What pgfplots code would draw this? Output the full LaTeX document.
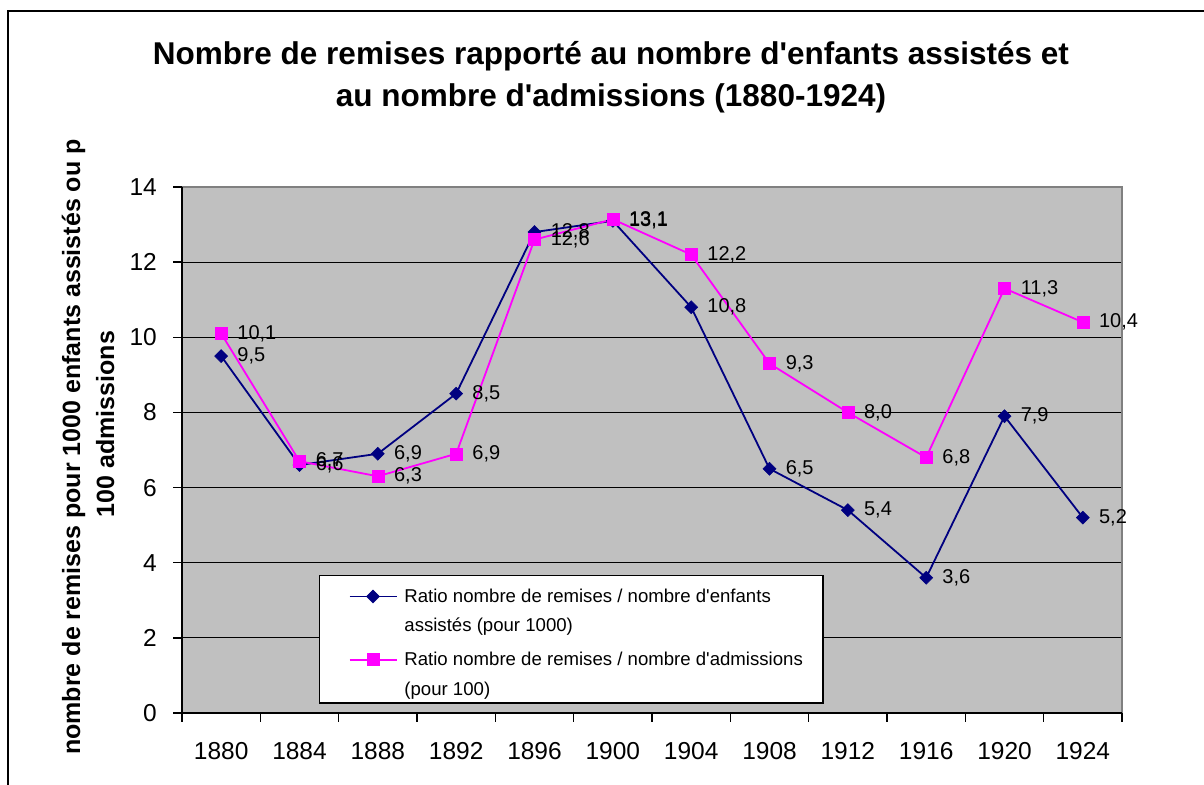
\documentclass[border=0pt]{standalone}
\usepackage{fontspec}
\setmainfont{Liberation Sans}
\usepackage{pgfplots}
\pgfplotsset{compat=1.18}
\definecolor{navyc}{HTML}{000080}
\definecolor{magc}{HTML}{FF00FF}
\definecolor{plotgray}{HTML}{C0C0C0}
\definecolor{bordergray}{HTML}{808080}
\begin{document}
\begin{tikzpicture}[x=1pt,y=1pt]
\useasboundingbox (0,0) rectangle (1204,784);
\fill[white] (0,0) rectangle (1204,784);
\draw[line width=1.5pt] (8,-10) -- (8,773) -- (1220,773);
\node[anchor=base, inner sep=0pt, font=\bfseries\fontsize{31.5}{38}\selectfont] at (611,719) {Nombre de remises rapporté au nombre d\textquotesingle enfants assistés et};
\node[anchor=base, inner sep=0pt, font=\bfseries\fontsize{31.5}{38}\selectfont] at (611,677) {au nombre d\textquotesingle admissions (1880-1924)};
\node[rotate=90, anchor=base west, inner sep=0pt, font=\bfseries\fontsize{25}{30}\selectfont] at (80,29) {nombre de remises pour 1000 enfants assistés ou p};
\node[rotate=90, anchor=base, inner sep=0pt, font=\bfseries\fontsize{25}{30}\selectfont] at (114,360) {100 admissions};
\begin{axis}[
  at={(182pt,71pt)}, anchor=south west,
  width=940pt, height=526pt, scale only axis,
  xmin=-0.5, xmax=11.5, ymin=0, ymax=14,
  clip=false,
  xtick={0,...,11},
  xticklabels={1880,1884,1888,1892,1896,1900,1904,1908,1912,1916,1920,1924},
  minor xtick={-0.5,0.5,...,11.5},
  ytick={0,2,...,14},
  tick pos=left,
  tick align=outside,
  major tick length=9pt, minor tick length=9pt,
  major x tick style={draw=none},
  minor x tick style={black, line width=1.3pt},
  ytick style={black, line width=1.3pt},
  ymajorgrids, major grid style={black, line width=1.2pt},
  axis line style={draw=none},
  axis background/.style={fill=plotgray},
  ticklabel style={font=\fontsize{24.5}{29}\selectfont},
  /pgf/number format/assume math mode=true,
  xticklabel style={inner sep=0pt, anchor=north, yshift=-20pt},
  yticklabel style={inner sep=0pt, anchor=east, xshift=-16pt},
  nodes near coords={\pgfmathprintnumber[assume math mode=true,fixed,fixed zerofill,precision=1,use comma]{\pgfplotspointmeta}},
  nodes near coords style={anchor=west, inner sep=0pt, xshift=16pt, font=\fontsize{20}{24}\selectfont, text=black},
  legend style={at={(0.1457,0.2624)}, anchor=north west, draw=black, line width=1.3pt, fill=white,
    inner xsep=29pt, inner ysep=4.5pt, column sep=5pt, row sep=3.5pt,
    font=\fontsize{18.6}{29}\selectfont, cells={anchor=base west, inner sep=0pt}},
  legend image code/.code={\draw[mark repeat=2,mark phase=2,#1] plot coordinates {(0pt,6pt) (23.5pt,6pt) (47pt,6pt)};},
]
\addplot[navyc, line width=1.8pt, mark=square*, mark size=4.6pt, mark options={solid, rotate=45, line width=0.5pt, fill=navyc}]
  coordinates {(0,9.5)(1,6.6)(2,6.9)(3,8.5)(4,12.8)(5,13.1)(6,10.8)(7,6.5)(8,5.4)(9,3.6)(10,7.9)(11,5.2)};
\addlegendentry{\strut Ratio nombre de remises / nombre d\textquotesingle enfants}
\addlegendimage{empty legend}
\addlegendentry{\strut assistés (pour 1000)}
\addplot[magc, line width=1.8pt, mark=square*, mark size=6pt, mark options={solid, line width=0.5pt, fill=magc}]
  coordinates {(0,10.1)(1,6.7)(2,6.3)(3,6.9)(4,12.6)(5,13.14)(6,12.2)(7,9.3)(8,8.0)(9,6.8)(10,11.3)(11,10.4)};
\addlegendentry{\rule{0pt}{25pt}\strut Ratio nombre de remises / nombre d\textquotesingle admissions\hspace*{-11pt}}
\addlegendimage{empty legend}
\addlegendentry{\strut (pour 100)}
\draw[bordergray, line width=1.3pt] (rel axis cs:0,1) -- (rel axis cs:1,1) -- (rel axis cs:1,0);
\draw[black, line width=1.5pt] (rel axis cs:0,1) -- (rel axis cs:0,0) -- (rel axis cs:1,0);
\end{axis}
\end{tikzpicture}
\end{document}
